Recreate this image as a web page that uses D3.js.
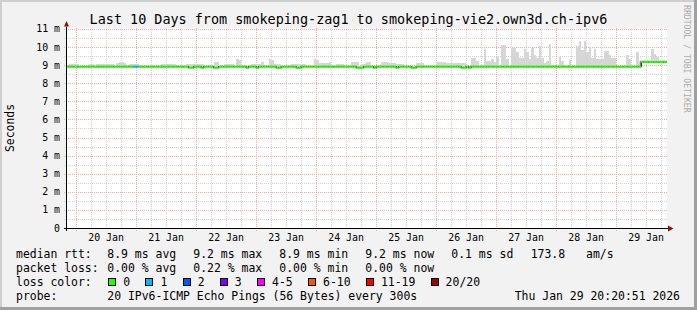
<!DOCTYPE html>
<html><head><meta charset="utf-8">
<script src="https://cdn.jsdelivr.net/npm/d3@7/dist/d3.min.js"></script>
<style>html,body{margin:0;padding:0;background:#f2f2f2;overflow:hidden}svg{display:block}</style>
</head><body><svg id="c" width="697" height="310"></svg>
<script>
// ---------------- DATA ----------------
const title = "Last 10 Days from smokeping-zag1 to smokeping-vie2.own3d.ch-ipv6";
const yAxisTitle = "Seconds";
const watermark = "RRDTOOL / TOBI OETIKER";
const startTime = "2026-01-19T20:20:51Z";
const endTime = "2026-01-29T20:20:51Z";
const firstBin = "2026-01-19T20:00:00Z";   // hourly consolidated bins
const yTicks = [0, 1, 2, 3, 4, 5, 6, 7, 8, 9, 10, 11];
const yTickLabels = ["0", "1 m", "2 m", "3 m", "4 m", "5 m", "6 m", "7 m", "8 m", "9 m", "10 m", "11 m"];
const xTickLabels = ["20 Jan", "21 Jan", "22 Jan", "23 Jan", "24 Jan", "25 Jan", "26 Jan", "27 Jan", "28 Jan", "29 Jan"];

// smoke top (max ping, ms) per hour
const smokeMax = [
  8.97, 9.08, 9.08, 9.08, 9.07, 8.97, 8.97, 8.97, 8.97, 9.06, 9.06, 8.97, 9.08, 9.08, 9.08, 9.08, 9.08, 9.07, 9.08, 8.97, 9.12, 9.18, 9.18, 9.1,
  8.97, 9.08, 9.08, 9.08, 9.08, 8.97, 8.97, 8.97, 8.97, 8.97, 8.97, 8.97, 8.97, 8.97, 9.08, 9.08, 9.08, 9.08, 9.08, 9.07, 8.97, 8.97, 8.97, 8.97,
  9.06, 9.06, 9.06, 9.08, 9.08, 9.08, 9.08, 8.97, 8.97, 8.97, 8.97, 9.15, 9.15, 8.97, 8.97, 9.08, 9.08, 9.08, 9.08, 8.97, 9.35, 9.3, 8.97, 8.97,
  8.97, 8.97, 9.08, 9.08, 9.08, 9.08, 9.15, 8.97, 8.97, 9.33, 9.3, 9.08, 9.08, 9.08, 8.97, 8.97, 8.97, 8.97, 9.08, 9.08, 9.08, 9.08, 9.08, 9.08,
  8.97, 8.97, 8.97, 9.35, 9.3, 9.12, 9.12, 9.12, 9.12, 9.15, 8.97, 8.97, 9.08, 9.08, 9.08, 8.97, 8.97, 8.97, 9.15, 9.15, 9.15, 8.97, 9.08, 9.08,
  9.15, 9.15, 8.97, 8.97, 8.97, 8.97, 9.18, 9.18, 9.18, 9.1, 9.1, 9.1, 9.06, 9.06, 9.06, 8.97, 8.97, 8.97, 8.97, 8.97, 9.1, 9.1, 9.1, 8.97,
  8.97, 8.97, 8.97, 8.97, 9.18, 9.18, 9.18, 9.18, 9.12, 9.12, 9.12, 9.12, 9.12, 9.1, 9.1, 9.1, 8.97, 8.97, 9.39, 9.39, 9.25, 8.97, 8.97, 9.89,
  9.24, 9.24, 9.35, 9.15, 9.5, 8.97, 10.1, 10.1, 9.35, 8.97, 9.93, 9.93, 9.7, 9.4, 9.4, 9.9, 9.7, 9.33, 9.93, 9.56, 9.37, 10.07, 9.37, 9.11,
  9.24, 10.17, 9.0, 9.0, 8.97, 9.43, 9.24, 8.97, 8.97, 9.28, 8.97, 8.97, 10.07, 10.35, 9.85, 10.35, 9.7, 9.98, 9.37, 9.89, 9.33, 9.33, 9.33, 9.8,
  9.8, 9.56, 9.37, 9.37, 8.97, 8.97, 8.97, 8.97, 9.56, 9.33, 8.97, 8.97, 9.7, 9.2, 9.27, 9.27, 9.27, 9.27, 9.89, 9.61, 9.43, 9.27, 9.27, 9.27, 9.27
];

// median rtt (ms) per hour
const median = [
  8.92, 8.92, 8.92, 8.92, 8.92, 8.92, 8.92, 8.92, 8.92, 8.92, 8.92, 8.92, 8.92, 8.92, 8.92, 8.92, 8.92, 8.92, 8.92, 8.92, 8.92, 8.92, 8.92, 8.92,
  8.92, 8.92, 8.92, 8.92, 8.92, 8.92, 8.92, 8.92, 8.92, 8.92, 8.92, 8.92, 8.92, 8.92, 8.92, 8.92, 8.92, 8.92, 8.92, 8.92, 8.92, 8.92, 8.92, 8.92,
  8.92, 8.86, 8.86, 8.92, 8.92, 8.92, 8.86, 8.92, 8.92, 8.92, 8.92, 8.86, 8.86, 8.92, 8.92, 8.92, 8.92, 8.92, 8.92, 8.92, 8.92, 8.92, 8.92, 8.92,
  8.86, 8.92, 8.92, 8.92, 8.86, 8.92, 8.92, 8.92, 8.92, 8.92, 8.92, 8.92, 8.86, 8.86, 8.92, 8.92, 8.92, 8.92, 8.92, 8.92, 8.86, 8.86, 8.92, 8.92,
  8.92, 8.92, 8.92, 8.92, 8.92, 8.92, 8.92, 8.92, 8.92, 8.92, 8.92, 8.92, 8.92, 8.92, 8.92, 8.92, 8.92, 8.92, 8.92, 8.92, 8.86, 8.86, 8.86, 8.92,
  8.92, 8.92, 8.92, 8.86, 8.92, 8.92, 8.92, 8.92, 8.92, 8.92, 8.92, 8.92, 8.86, 8.92, 8.92, 8.92, 8.92, 8.92, 8.86, 8.86, 8.92, 8.92, 8.92, 8.92,
  8.92, 8.92, 8.92, 8.92, 8.92, 8.92, 8.92, 8.92, 8.92, 8.92, 8.92, 8.92, 8.92, 8.92, 8.86, 8.86, 8.92, 8.86, 8.92, 8.92, 8.92, 8.92, 8.92, 8.92,
  8.92, 8.92, 8.92, 8.92, 8.92, 8.92, 8.92, 8.92, 8.92, 8.92, 8.92, 8.92, 8.92, 8.92, 8.92, 8.92, 8.92, 8.92, 8.92, 8.92, 8.92, 8.92, 8.92, 8.92,
  8.92, 8.92, 8.92, 8.92, 8.92, 8.92, 8.92, 8.92, 8.92, 8.92, 8.92, 8.92, 8.92, 8.92, 8.92, 8.92, 8.92, 8.92, 8.92, 8.92, 8.92, 8.92, 8.92, 8.92,
  8.92, 8.92, 8.92, 8.92, 8.92, 8.92, 8.92, 8.92, 8.92, 8.92, 8.92, 8.92, 8.92, 8.92, 9.17, 9.17, 9.17, 9.17, 9.17, 9.17, 9.17, 9.17, 9.17, 9.17, 9.17
];

// packets lost (of 20) per hour — only non-zero hours listed
const lossHours = [27, 28];
const lossValues = [1, 1];

const lossLabels = ["0", "1", "2", "3", "4-5", "6-10", "11-19", "20/20"];
const lossColors = ["#26ff00", "#00b8ff", "#0059ff", "#7e00ff", "#ff00ff", "#ff5500", "#ff0000", "#a10000"];
const lossUpper = [0, 1, 2, 3, 5, 10, 19, 20];

const rttLabel = "median rtt:";
const rttStats = ["8.9 ms avg", "9.2 ms max", "8.9 ms min", "9.2 ms now", "0.1 ms sd"];
const amsValue = "173.8", amsUnit = "am/s";
const lossLabel = "packet loss:";
const lossStats = ["0.00 % avg", "0.22 % max", "0.00 % min", "0.00 % now"];
const colorLabel = "loss color:";
const probeLabel = "probe:";
const probeText = "20 IPv6-ICMP Echo Pings (56 Bytes) every 300s";
const stamp = "Thu Jan 29 20:20:51 2026";

// ---------------- DRAW ----------------
const W = 697, H = 310;
const L = 67, R = 667, T = 28, B = 228;
const mono = "'DejaVu Sans Mono', monospace";
const svg = d3.select("#c");

svg.append("rect").attr("width", W).attr("height", H).attr("fill", "#f2f2f2");
svg.append("rect").attr("x", 0).attr("y", 0).attr("width", W).attr("height", 2).attr("fill", "#cfcfcf");
svg.append("rect").attr("x", 0).attr("y", 0).attr("width", 2).attr("height", H).attr("fill", "#cfcfcf");
svg.append("rect").attr("x", 0).attr("y", H - 3).attr("width", W).attr("height", 3).attr("fill", "#a0a0a0");
svg.append("rect").attr("x", W - 3).attr("y", 0).attr("width", 3).attr("height", H).attr("fill", "#a0a0a0");

const t0 = new Date(startTime), t1 = new Date(endTime);
const x = d3.scaleUtc().domain([t0, t1]).range([L, R]);
const y = d3.scaleLinear().domain([0, 11.05]).range([B, T]);

svg.append("rect").attr("x", L).attr("y", T).attr("width", R - L).attr("height", B - T).attr("fill", "#ffffff");

const defs = svg.append("defs");
defs.append("clipPath").attr("id", "plot").append("rect").attr("x", L).attr("y", T).attr("width", R - L).attr("height", B - T);

// grid
const grid = svg.append("g").attr("shape-rendering", "crispEdges");
const minorCol = "#d2d2d2", majorCol = "#f0a8a8";
const minorH = d3.range(1, 22).map(d => d / 2).filter(v => v % 1 !== 0);
grid.selectAll(".mh").data(minorH).join("line")
  .attr("x1", L - 3).attr("x2", R).attr("y1", d => Math.round(y(d)) + 0.5).attr("y2", d => Math.round(y(d)) + 0.5)
  .attr("stroke", minorCol).attr("stroke-dasharray", "1,1");
const sixH = d3.utcHour.every(6).range(t0, t1).filter(d => d.getUTCHours() !== 0);
grid.selectAll(".mv").data(sixH).join("line")
  .attr("x1", d => Math.round(x(d)) + 0.5).attr("x2", d => Math.round(x(d)) + 0.5).attr("y1", T).attr("y2", B + 2)
  .attr("stroke", minorCol).attr("stroke-dasharray", "1,1");
grid.selectAll(".Mh").data(yTicks.filter(d => d > 0)).join("line")
  .attr("x1", L - 3).attr("x2", R).attr("y1", d => Math.round(y(d)) + 0.5).attr("y2", d => Math.round(y(d)) + 0.5)
  .attr("stroke", majorCol).attr("stroke-dasharray", "1,1");
const days = d3.utcDay.range(t0, t1);
grid.selectAll(".Mv").data(days).join("line")
  .attr("x1", d => Math.round(x(d)) + 0.5).attr("x2", d => Math.round(x(d)) + 0.5).attr("y1", T).attr("y2", B + 3)
  .attr("stroke", majorCol).attr("stroke-dasharray", "1,1");

// data
const binT0 = new Date(firstBin);
const bins = smokeMax.map((v, i) => {
  const a = d3.utcHour.offset(binT0, i), b = d3.utcHour.offset(binT0, i + 1);
  const li = lossHours.indexOf(i);
  return { a, b, max: v, med: median[i], loss: li >= 0 ? lossValues[li] : 0 };
});
const plot = svg.append("g").attr("clip-path", "url(#plot)");
plot.append("g").attr("shape-rendering", "crispEdges").selectAll("rect").data(bins).join("rect")
  .attr("x", d => x(d.a)).attr("width", d => x(d.b) - x(d.a))
  .attr("y", d => y(d.max)).attr("height", d => Math.max(0, y(d.med - 0.04) - y(d.max)))
  .attr("fill", "#d6d6d6");

const stepPts = bins.map(d => [x(d.a), y(d.med)]).concat([[x(bins[bins.length - 1].b), y(bins[bins.length - 1].med)]]);
plot.append("path").attr("d", d3.line().curve(d3.curveStepAfter)(stepPts))
  .attr("fill", "none").attr("stroke", "#000").attr("stroke-width", 1.2);
const colorOf = n => lossColors[lossUpper.findIndex(u => n <= u)];
plot.append("g").selectAll("line").data(bins).join("line")
  .attr("x1", d => x(d.a)).attr("x2", d => x(d.b)).attr("y1", d => y(d.med)).attr("y2", d => y(d.med))
  .attr("stroke", d => colorOf(d.loss)).attr("stroke-width", 2);

// axes
const ax = svg.append("g").attr("shape-rendering", "crispEdges");
ax.append("line").attr("x1", L - 3).attr("x2", R + 2).attr("y1", B + 0.5).attr("y2", B + 0.5).attr("stroke", "#000");
ax.append("line").attr("x1", L - 0.5).attr("x2", L - 0.5).attr("y1", B + 3).attr("y2", T - 1).attr("stroke", "#000");
svg.append("path").attr("d", `M${R + 1},${B - 2.5}L${R + 6.5},${B + 0.5}L${R + 1},${B + 3.5}Z`).attr("fill", "#8b1010");
svg.append("path").attr("d", `M${L - 3},${T - 1.5}L${L - 0.5},${T - 7}L${L + 2},${T - 1.5}Z`).attr("fill", "#8b1010");

// y tick labels
svg.append("g").selectAll("text").data(yTicks).join("text")
  .attr("x", 60).attr("y", d => y(d) + 3.5).attr("text-anchor", "end")
  .attr("font-family", mono).attr("font-size", 9.9).attr("fill", "#000")
  .text((d, i) => yTickLabels[i]);
// x tick labels at noon
svg.append("g").selectAll("text").data(days).join("text")
  .attr("x", d => x(d3.utcHour.offset(d, 12))).attr("y", 241).attr("text-anchor", "middle")
  .attr("font-family", mono).attr("font-size", 9.9).attr("fill", "#000")
  .text((d, i) => xTickLabels[i]);

// titles
svg.append("text").attr("x", W / 2).attr("y", 24).attr("text-anchor", "middle")
  .attr("font-family", mono).attr("font-size", 13.45).attr("fill", "#000").text(title);
svg.append("text").attr("transform", `translate(14,${(T + B) / 2}) rotate(-90)`).attr("text-anchor", "middle")
  .attr("font-family", mono).attr("font-size", 11.45).attr("fill", "#000").text(yAxisTitle);
svg.append("text").attr("transform", `translate(684,5) rotate(90)`).attr("text-anchor", "start")
  .attr("font-family", mono).attr("font-size", 8.15).attr("fill", "#ababab").text(watermark);

// legend
const lg = svg.append("g").attr("font-family", mono).attr("font-size", 11.45).attr("fill", "#000");
const rowY = [258.3, 272.2, 286.1, 300];
const col0 = 16, col1 = 107.3, colStep = 86;
lg.append("text").attr("x", col0).attr("y", rowY[0]).text(rttLabel);
rttStats.forEach((s, i) => lg.append("text").attr("x", col1 + colStep * i).attr("y", rowY[0]).text(s));
lg.append("text").attr("x", 530.7).attr("y", rowY[0]).text(amsValue);
lg.append("text").attr("x", 586).attr("y", rowY[0]).text(amsUnit);
lg.append("text").attr("x", col0).attr("y", rowY[1]).text(lossLabel);
lossStats.forEach((s, i) => lg.append("text").attr("x", col1 + colStep * i).attr("y", rowY[1]).text(s));
lg.append("text").attr("x", col0).attr("y", rowY[2]).text(colorLabel);
let bx = 108.3;
lossLabels.forEach((lab, i) => {
  lg.append("rect").attr("x", Math.round(bx) + 0.5).attr("y", rowY[2] - 7.5).attr("width", 7).attr("height", 7)
    .attr("fill", lossColors[i]).attr("stroke", "#000").attr("stroke-width", 1).attr("shape-rendering", "crispEdges");
  const t = lg.append("text").attr("x", bx + 15).attr("y", rowY[2]).text(lab);
  bx = bx + 15 + t.node().getComputedTextLength() + 15.3;
});
lg.append("text").attr("x", col0).attr("y", rowY[3]).text(probeLabel);
lg.append("text").attr("x", col1).attr("y", rowY[3]).text(probeText);
lg.append("text").attr("x", 680).attr("y", rowY[3]).attr("text-anchor", "end").text(stamp);
</script>
</body></html>
